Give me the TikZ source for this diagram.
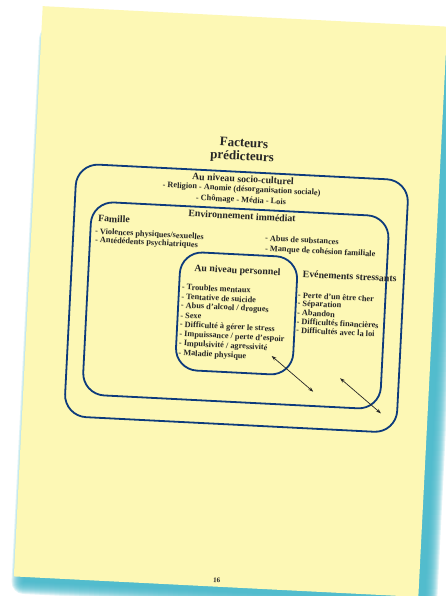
\documentclass[tikz,border=0pt]{standalone}
\usepackage{fontspec}
\setmainfont{Liberation Serif}
\usetikzlibrary{arrows.meta}
\definecolor{pageyellow}{HTML}{FDF8B5}
\definecolor{boxblue}{HTML}{0D3B7C}
\definecolor{ink}{HTML}{262626}
\definecolor{shadowteal}{HTML}{44B8CB}
\begin{document}
\begin{tikzpicture}[x=1pt,y=-1pt,
  box/.style={draw=boxblue, line width=1.8pt, rounded corners=22pt, inner sep=0pt, transform shape},
  titletext/.style={font=\bfseries\fontsize{13}{15}\selectfont, text=ink, inner sep=0pt, transform shape},
  head/.style={font=\bfseries\fontsize{9.8}{11}\selectfont, text=ink, inner sep=0pt, transform shape},
  line/.style={font=\bfseries\fontsize{8.3}{10}\selectfont, text=ink, inner sep=0pt, transform shape},
  item/.style={line, anchor=west},
  link/.style={draw=ink, line width=0.7pt, {Stealth[length=5pt,width=3.5pt]}-{Stealth[length=5pt,width=3.5pt]}}
]
\useasboundingbox (0,0) rectangle (445,596);
\fill[white] (0,0) rectangle (445,596);
\begin{scope}[rotate around={-2.9:(230,302)}]
  % shadow
  \foreach \k in {0,...,12}
    \fill[shadowteal, opacity=0.17, rounded corners=\k pt] (38-\k,48-\k) rectangle (440+\k,592+\k);
  % page
  \fill[pageyellow] (28,16) rectangle (433,587);

  % boxes
  \node[box, minimum width=332.5pt, minimum height=252.8pt] (outer) at (236.25,297.9) {};
  \node[box, minimum width=298pt, minimum height=193.2pt] (env) at (236,305.1) {};
  \node[box, minimum width=117.4pt, minimum height=118.2pt] (perso) at (237.1,313.1) {};

  % title
  \node[titletext] (t1) at (236,142.5) {Facteurs};
  \node[titletext] (t2) at (234.7,156.6) {prédicteurs};

  % socio-culturel
  \node[head] (h1) at (236.8,178.5) {Au niveau socio-culturel};
  \node[line] (s1) at (235.8,189) {- Religion - Anomie (désorganisation sociale)};
  \node[line] (s2) at (235.8,200) {- Chômage - Média - Lois};

  % environnement
  \node[head] (h2) at (237.7,215.5) {Environnement immédiat};
  \node[head, anchor=west] (fam) at (94,225) {Famille};
  \node[item] (f1) at (91.7,238.9) {- Violences physiques/sexuelles};
  \node[item] (f2) at (92.1,247.2) {- Antédédents psychiatriques};
  \node[item] (e1) at (261.8,236.3) {- Abus de substances};
  \node[item] (e2) at (262.3,247.3) {- Manque de cohésion familiale};

  % personnel
  \node[head] (h3) at (235.9,270.6) {Au niveau personnel};
  \node[item] (p1) at (181,289.3) {- Troubles mentaux};
  \node[item] (p2) at (181,298.8) {- Tentative de suicide};
  \node[item] (p3) at (181,308.3) {- Abus d'alcool / drogues};
  \node[item] (p4) at (181,317.8) {- Sexe};
  \node[item] (p5) at (181,327.3) {- Difficulté à gérer le stress};
  \node[item] (p6) at (181,336.8) {- Impuissance / perte d'espoir};
  \node[item] (p7) at (181,346.3) {- Impulsivité / agressivité};
  \node[item] (p8) at (181,355.8) {- Maladie physique};

  % evenements
  \node[head, anchor=west] (h4) at (301.2,270.3) {Evénements stressants};
  \node[item] (v1) at (297.5,291.6) {- Perte d'un être cher};
  \node[item] (v2) at (297.5,300.4) {- Séparation};
  \node[item] (v3) at (297.5,309.1) {- Abandon};
  \node[item] (v4) at (297.5,317.9) {- Difficultés financières};
  \node[item] (v5) at (297.5,326.6) {- Difficultés avec la loi};

  % arrows
  \coordinate (a1s) at (274.3,353.8);
  \coordinate (a1e) at (317.7,387.4);
  \coordinate (a2s) at (343.8,372.6);
  \coordinate (a2e) at (386.4,405.6);
  \draw[link] (a1s) -- (a1e);
  \draw[link] (a2s) -- (a2e);

  % page number
  \node[font=\bfseries\fontsize{7}{8}\selectfont, text=ink, inner sep=0pt, transform shape] (num) at (230.8,580.3) {16};
\end{scope}
\end{tikzpicture}
\end{document}
